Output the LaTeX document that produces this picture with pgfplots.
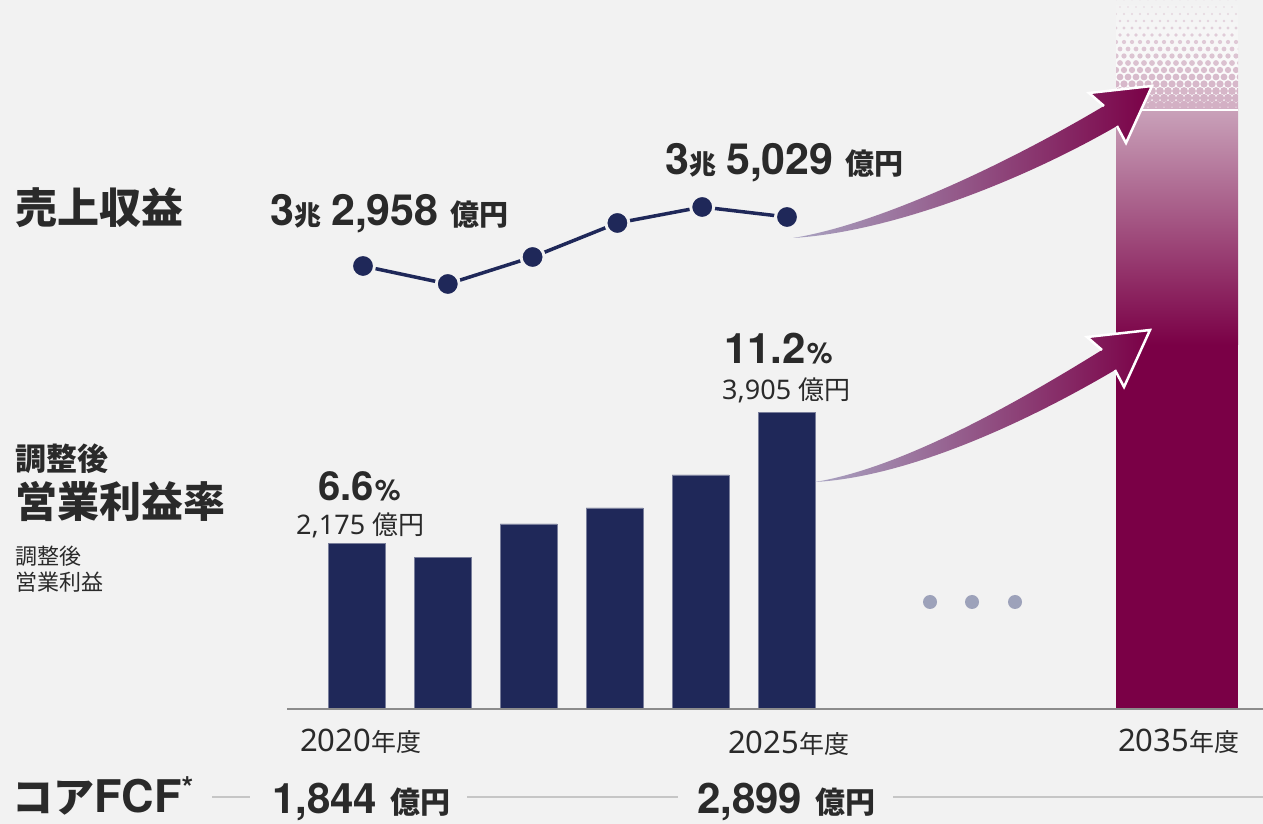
\documentclass[border=0pt]{standalone}
\usepackage{pgfplots}
\pgfplotsset{compat=1.18}
\usepackage{fontspec}
\setmainfont{Noto Sans}
\newfontfamily\hb{TeX Gyre Heros}
\newfontfamily\jp{Noto Sans CJK JP}
\definecolor{bg}{HTML}{F2F2F2}
\definecolor{navy}{HTML}{1F2859}
\definecolor{plum}{HTML}{7A0046}
\definecolor{plumlight}{HTML}{C9A1B9}
\definecolor{dotpink}{HTML}{D2AEC3}
\definecolor{txt}{HTML}{2A2A2A}
\definecolor{dotgray}{HTML}{9DA2BA}
\definecolor{arrowtail}{HTML}{A9A4C2}
\newcommand{\fs}[1]{\fontsize{#1}{#1}\selectfont}
\newcommand{\B}{\hb\bfseries}
\begin{document}
\begin{tikzpicture}
\fill[bg] (0,0) rectangle (1263pt,824pt);
% operating profit bars (100 million yen)
\begin{axis}[at={(0,0)},anchor=south west,scale only axis,width=1263pt,height=824pt,hide axis,
  xmin=-4.1453,xmax=10.5407,ymin=-1531.2,ymax=9345.6,clip=false]
\addplot[ybar,bar shift=0pt,bar width=0.6628,fill=navy,draw=navy!60!white,line width=0.6pt]
  coordinates {(0,2175)(1,1993)(2,2429)(3,2640)(4,3076)(5,3905)};
\addplot[ybar,bar shift=0pt,bar width=1.4186,fill=plum,draw=none]
  coordinates {(9.5407,7894)};
\end{axis}
% revenue line (100 million yen)
\begin{axis}[at={(0,0)},anchor=south west,scale only axis,width=1263pt,height=824pt,hide axis,
  xmin=-4.2807,xmax=10.6132,ymin=9371.3,ymax=44201.8,clip=false]
\addplot[navy,line width=3.5pt,mark=*,mark size=11.5pt,
  mark options={fill=navy,draw=bg,line width=3pt,solid}]
  coordinates {(0,32958)(1,32197)(2,33338)(3,34776)(4,35452)(5,35029)};
\end{axis}
\begin{scope}[x=1pt,y=-1pt,yshift=824pt]
% 2035 bar gradient top
\shade[top color=plumlight,bottom color=plum] (1116,110) rectangle (1238,345);
% halftone part
\begin{scope}
\clip (1116,0) rectangle (1238,110);
\shade[top color=bg,bottom color=white] (1116,0) rectangle (1238,110);
\foreach \j in {0,...,16} {
  \foreach \i in {0,...,16} {
    \pgfmathsetmacro\yy{\j*7}
    \pgfmathsetmacro\xx{1116+\i*8+mod(\j,2)*4}
    \pgfmathsetmacro\rr{0.6+4.0*(\yy/110)}
    \pgfmathsetmacro\cc{35+65*(\yy/110)}
    \fill[dotpink!\cc!bg] (\xx,\yy) circle (\rr pt);
  }
}
\end{scope}
\draw[white,line width=1.5pt] (1116,110) -- (1238,110);
% baseline
\draw[gray!90,line width=2.5pt] (287,709) -- (1263,709);
% ellipsis dots
\fill[dotgray] (930,602) circle (7pt) (972,602) circle (7pt) (1015,602) circle (7pt);
% upper arrow
\shade[left color=arrowtail,right color=plum]
  (793,238) .. controls (880,224) and (1010,162) .. (1104,106)
  -- (1089,93) -- (1152,86) -- (1126,143) -- (1117,126)
  .. controls (1020,182) and (890,232) .. (793,238) -- cycle;
\draw[white,line width=2.5pt,line join=miter] (1104,106) -- (1089,93) -- (1152,86) -- (1126,143) -- (1117,126);
% lower arrow
\shade[left color=arrowtail,right color=plum]
  (815,482) .. controls (900,468) and (1010,407) .. (1102,350)
  -- (1087,337) -- (1150,330) -- (1124,387) -- (1115,370)
  .. controls (1020,426) and (905,477) .. (815,482) -- cycle;
\draw[white,line width=2.5pt,line join=miter] (1102,350) -- (1087,337) -- (1150,330) -- (1124,387) -- (1115,370);
% left labels
\node[anchor=base west,inner sep=0,text=txt] at (15,224) {\jp\bfseries\fs{42}売上収益};
\node[anchor=base west,inner sep=0,text=txt] at (15,471) {\jp\bfseries\fs{31}調整後};
\node[anchor=base west,inner sep=0,text=txt] at (15,518) {\jp\bfseries\fs{42}営業利益率};
\node[anchor=base west,inner sep=0,text=txt] at (15,565) {\jp\fs{22}調整後};
\node[anchor=base west,inner sep=0,text=txt] at (15,591) {\jp\fs{22}営業利益};
% revenue labels
\node[anchor=base west,inner sep=0,text=txt] at (270,226) {\B\fs{43}3{\jp\bfseries\fs{27}兆}\hspace{10pt}2,958\hspace{12pt}{\jp\bfseries\fs{29}億円}};
\node[anchor=base west,inner sep=0,text=txt] at (665,175) {\B\fs{43}3{\jp\bfseries\fs{27}兆}\hspace{10pt}5,029\hspace{12pt}{\jp\bfseries\fs{29}億円}};
% margin labels
\node[anchor=base west,inner sep=0,text=txt] at (318,501) {\B\fs{40}6.6\hspace{1pt}{\fs{29}\%}};
\node[anchor=base west,inner sep=0,text=txt] at (296,535) {\fs{27}2,175\hspace{7pt}{\jp\fs{26}億円}};
\node[anchor=base west,inner sep=0,text=txt] at (724,364) {\B\fs{42}11.2\hspace{1pt}{\fs{29}\%}};
\node[anchor=base west,inner sep=0,text=txt] at (722,400) {\fs{27}3,905\hspace{7pt}{\jp\fs{26}億円}};
% year labels
\node[anchor=base west,inner sep=0,text=txt] at (300,752) {\fs{31}2020{\jp\fs{25}年度}};
\node[anchor=base west,inner sep=0,text=txt] at (728,754) {\fs{31}2025{\jp\fs{25}年度}};
\node[anchor=base west,inner sep=0,text=txt] at (1118,752) {\fs{31}2035{\jp\fs{25}年度}};
% core FCF row
\draw[gray!45,line width=1.5pt] (212,797) -- (250,797) (467,797) -- (678,797) (893,797) -- (1263,797);
\node[anchor=base west,inner sep=0,text=txt] at (12,813) {{\jp\bfseries\fs{41}コア}{\B\fs{45}FCF\raisebox{14pt}{\fs{30}*}}};
\node[anchor=base west,inner sep=0,text=txt] at (272,814) {\B\fs{42}1,844\hspace{13pt}{\jp\bfseries\fs{30}億円}};
\node[anchor=base west,inner sep=0,text=txt] at (697,814) {\B\fs{42}2,899\hspace{13pt}{\jp\bfseries\fs{30}億円}};
\end{scope}
\pgfresetboundingbox
\path[use as bounding box] (0,0) rectangle (1263pt,824pt);
\end{tikzpicture}
\end{document}
